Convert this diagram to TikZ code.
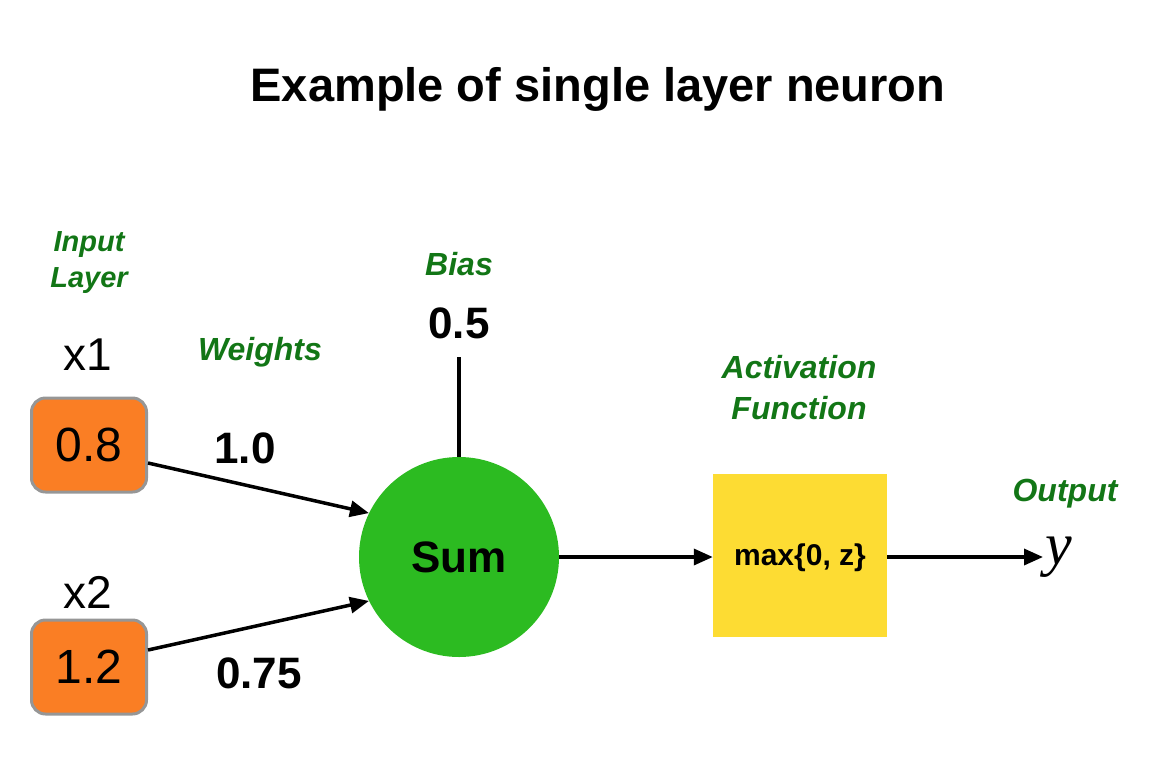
\documentclass[tikz,border=0pt]{standalone}
\usepackage{fontspec}
\setmainfont{Liberation Sans}
\newfontfamily\yfont{Liberation Serif}
\usetikzlibrary{arrows.meta,calc}
\definecolor{lblgreen}{RGB}{18,118,22}
\definecolor{inorange}{RGB}{250,126,36}
\definecolor{ingray}{RGB}{150,150,150}
\definecolor{sumgreen}{RGB}{44,187,33}
\definecolor{actyellow}{RGB}{253,220,51}
\begin{document}
\begin{tikzpicture}[x=1pt,y=-1pt,
  greenlbl/.style={text=lblgreen,font=\fontsize{32}{40}\selectfont\bfseries\itshape,align=center,inner sep=0pt},
  numlbl/.style={font=\fontsize{44}{50}\selectfont\bfseries,inner sep=0pt},
  xlbl/.style={font=\fontsize{46}{50}\selectfont,inner sep=0pt},
  inbox/.style={draw=ingray,line width=3pt,fill=inorange,rounded corners=14pt,minimum width=115pt,minimum height=94pt,font=\fontsize{48}{50}\selectfont,inner sep=0pt},
  conn/.style={line width=3.5pt,-{Triangle[length=19pt,width=16pt]}},
  plain/.style={line width=3.5pt}]
\useasboundingbox (0,0) rectangle (1150,766);
\node (title) at (598,89) {\fontsize{47}{50}\selectfont\bfseries Example of single layer neuron};
\node[greenlbl,font=\fontsize{29}{36}\selectfont\bfseries\itshape] (inlayer) at (89,263) {Input\\Layer};
\node[xlbl] (x1) at (88,355) {x1};
\node[xlbl] (x2) at (88,592) {x2};
\node[inbox] (in1) at (89,445) {0.8};
\node[inbox] (in2) at (89,667) {1.2};
\node[greenlbl] (weights) at (260,352) {Weights};
\node[numlbl] (w1) at (245,448) {1.0};
\node[numlbl] (w2) at (259,673) {0.75};
\node[greenlbl] (biaslbl) at (459,264) {Bias};
\node[numlbl] (biasval) at (459,323) {0.5};
\node[circle,fill=sumgreen,minimum size=200pt,inner sep=0pt,font=\fontsize{44}{50}\selectfont\bfseries] (sum) at (459,557) {Sum};
\node[greenlbl,font=\fontsize{32}{41}\selectfont\bfseries\itshape] (actlbl) at (799,388) {Activation\\Function};
\node[fill=actyellow,minimum width=174pt,minimum height=163pt,inner sep=0pt] (act) at (800,555) {};
\node[font=\fontsize{30}{36}\selectfont\bfseries,inner sep=0pt] (acttxt) at (800,558) {max\{0, z\}};
\node[greenlbl] (outlbl) at (1065,494) {Output};
\node[anchor=west,inner sep=2pt,font=\fontsize{60}{60}\selectfont\yfont\itshape] (y) at (1043,557) {y};
\coordinate (biastop) at (459,357);
\draw[plain] (biastop) -- (sum.north);
\draw[conn] ([yshift=-18pt]in1.east) -- (sum.154);
\draw[conn] ([yshift=17pt]in2.east) -- (sum.206);
\draw[conn] (sum.east) -- (sum.east -| act.west);
\draw[conn] (act.east |- sum.east) -- (y.west |- sum.east);
\end{tikzpicture}
\end{document}
